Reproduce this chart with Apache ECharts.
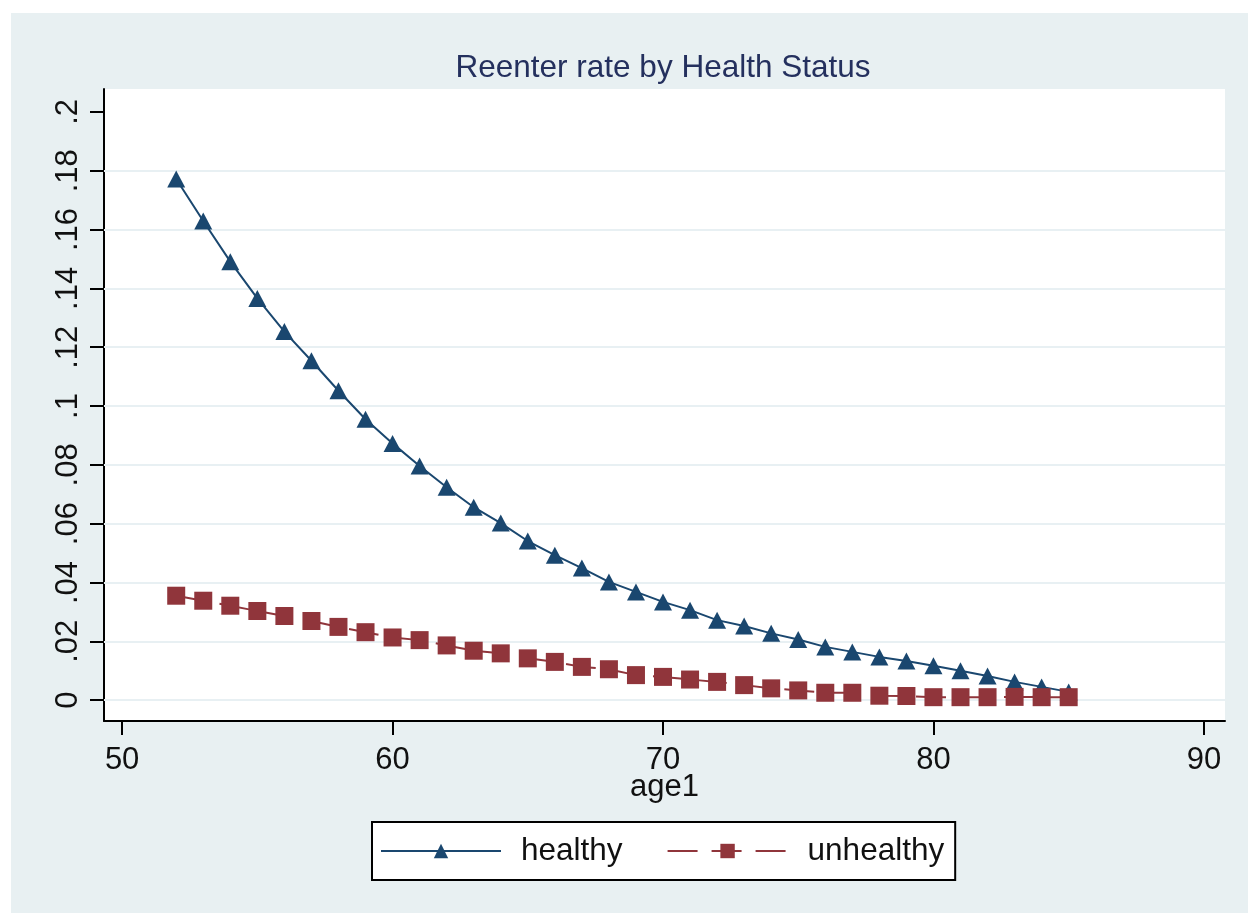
<!DOCTYPE html>
<html>
<head>
<meta charset="utf-8">
<script src="https://cdn.jsdelivr.net/npm/echarts@6/dist/echarts.min.js"></script>
<style>
  html, body { margin: 0; padding: 0; background: #ffffff; }
  #chart { position: absolute; left: 11px; top: 13px; width: 1237px; height: 900px; }
</style>
</head>
<body>
<div id="chart"></div>
<script>
// ---- data ----
const ages = [52,53,54,55,56,57,58,59,60,61,62,63,64,65,66,67,68,69,70,71,72,73,74,75,76,77,78,79,80,81,82,83,84,85];
const healthy = [0.1772,0.1629,0.1491,0.1366,0.1253,0.1154,0.1052,0.0955,0.0873,0.0796,0.0724,0.0656,0.0602,0.0541,0.0493,0.0449,0.0402,0.0368,0.0334,0.0306,0.0272,0.0252,0.0227,0.0206,0.0181,0.0164,0.0147,0.0133,0.0117,0.0100,0.0082,0.0062,0.0045,0.0028];
const unhealthy = [0.0355,0.0338,0.0321,0.0303,0.0286,0.0269,0.0249,0.0231,0.0213,0.0204,0.0186,0.0168,0.0159,0.0142,0.0130,0.0113,0.0105,0.0085,0.0079,0.0070,0.0062,0.0051,0.0040,0.0033,0.0025,0.0025,0.0015,0.0014,0.0010,0.0010,0.0010,0.0011,0.0010,0.0010];
const xTicks = [50,60,70,80,90];
const yTicks = [0,0.02,0.04,0.06,0.08,0.1,0.12,0.14,0.16,0.18,0.2];
const gridLineValues = [0,0.02,0.04,0.06,0.08,0.1,0.12,0.14,0.16,0.18];
const titleText = 'Reenter rate by Health Status';
const xName = 'age1';
const seriesNames = ['healthy','unhealthy'];

const fmtY = v => {
  if (Math.abs(v) < 1e-12) return '0';
  return String(+v.toFixed(4)).replace(/^0\./, '.');
};

const chart = echarts.init(document.getElementById('chart'), null, { renderer: 'canvas' });
const FONT = '"Liberation Sans", Arial, sans-serif';
const option = {
  backgroundColor: '#E8F0F2',
  animation: false,
  title: {
    text: titleText,
    left: 647, top: 34,
    textAlign: 'center',
    textStyle: { fontFamily: FONT, fontSize: 31.5, fontWeight: 'normal', color: '#24305E' }
  },
  grid: {
    left: 93, top: 76, right: 23, bottom: 192,
    show: true, backgroundColor: '#ffffff', borderWidth: 0,
    containLabel: false, outerBoundsMode: 'none'
  },
  legend: {
    left: 361, top: 809,
    data: seriesNames,
    orient: 'horizontal',
    backgroundColor: '#ffffff',
    borderColor: '#000000', borderWidth: 2, borderRadius: 0,
    padding: [13, 11, 13, 8],
    itemWidth: 120, itemHeight: 18, itemGap: 44,
    textStyle: { fontFamily: FONT, fontSize: 31.5, color: '#111111', padding: [0, 0, 0, 15] }
  },
  xAxis: {
    type: 'value',
    min: 49.33, max: 90.78,
    name: xName, nameLocation: 'middle', nameGap: 51, nameMoveOverlap: false,
    nameTextStyle: { fontFamily: FONT, fontSize: 31, color: '#111111' },
    axisLine: { show: true, onZero: false, lineStyle: { color: '#000000', width: 2 } },
    axisTick: { show: true, length: 14, lineStyle: { color: '#000000', width: 2 }, customValues: xTicks },
    axisLabel: { customValues: xTicks, margin: 24, fontFamily: FONT, fontSize: 31, color: '#111111' },
    splitLine: { show: false }
  },
  yAxis: {
    type: 'value',
    min: -0.0071, max: 0.2078,
    axisLine: { show: true, onZero: false, lineStyle: { color: '#000000', width: 2 } },
    axisTick: { show: true, length: 14, lineStyle: { color: '#000000', width: 2 }, customValues: yTicks },
    axisLabel: { customValues: yTicks, rotate: 90, margin: 20, fontFamily: FONT, fontSize: 31, color: '#111111', formatter: fmtY },
    splitLine: { show: false }
  },
  series: [
    {
      name: '_grid', type: 'line', data: [], z: 1, silent: true,
      markLine: {
        silent: true, symbol: 'none', animation: false, z: 1,
        label: { show: false },
        lineStyle: { color: '#E8F0F3', width: 2, type: 'solid' },
        data: gridLineValues.map(v => ({ yAxis: v }))
      }
    },
    {
      name: seriesNames[0], type: 'line', z: 3,
      data: ages.map((a, i) => [a, healthy[i]]),
      symbol: 'triangle', symbolSize: [18, 17],
      itemStyle: { color: '#1A476F' },
      lineStyle: { color: '#1A476F', width: 2, type: 'solid' }
    },
    {
      name: seriesNames[1], type: 'line', z: 4,
      data: ages.map((a, i) => [a, unhealthy[i]]),
      symbol: 'rect', symbolSize: 18,
      itemStyle: { color: '#90353B' },
      lineStyle: { color: '#90353B', width: 2, type: [30, 14] }
    }
  ]
};
chart.setOption(option);
</script>
</body>
</html>
